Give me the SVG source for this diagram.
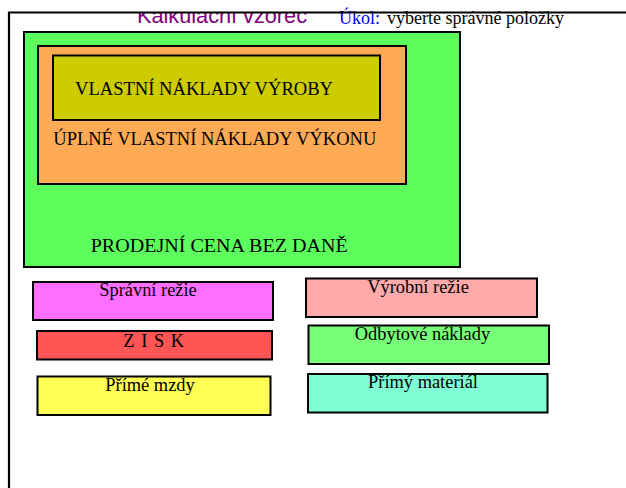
<svg xmlns="http://www.w3.org/2000/svg" width="626" height="488" viewBox="0 0 626 488">
<style>
  .box { stroke: #000; stroke-width: 2; }
  .serif { font-family: "Liberation Serif", "Times New Roman", serif; fill: #000; }
  .lbl { font-size: 18.4px; text-anchor: middle; }
  .big { font-size: 18.4px; }
</style>
<defs>
  <clipPath id="titleClip"><rect x="0" y="13" width="626" height="30"/></clipPath>
</defs>
<rect width="626" height="488" fill="#fff"/>

<g id="title" clip-path="url(#titleClip)">
  <text x="137" y="23.3" font-family="'Liberation Sans', Arial, sans-serif" font-size="21.7" fill="#800080" textLength="170" lengthAdjust="spacingAndGlyphs">Kalkulační vzorec</text>
</g>
<g id="task">
  <text x="339" y="24" class="serif" font-size="18"><tspan fill="#0000FF">Úkol:</tspan><tspan x="387" y="24">vyberte správné položky</tspan></text>
</g>

<g id="frame">
  <path d="M9 488 V12.5 H626" fill="none" stroke="#000" stroke-width="2.2"/>
</g>

<g id="prodejni-cena">
  <rect class="box" x="24" y="32" width="436" height="235" fill="#5CFF5C"/>
  <text class="serif big" x="90.7" y="251.7" font-size="20" textLength="257" lengthAdjust="spacingAndGlyphs">PRODEJNÍ CENA BEZ DANĚ</text>
</g>
<g id="uplne-vlastni-naklady">
  <rect class="box" x="38" y="46" width="368" height="138" fill="#FFAA55"/>
  <text class="serif big" x="53.3" y="145" textLength="323" lengthAdjust="spacingAndGlyphs">ÚPLNÉ VLASTNÍ NÁKLADY VÝKONU</text>
</g>
<g id="vlastni-naklady-vyroby">
  <rect class="box" x="53" y="55.5" width="327" height="64.5" fill="#CCCC00"/>
  <text class="serif big" x="75" y="95" textLength="258" lengthAdjust="spacingAndGlyphs">VLASTNÍ NÁKLADY VÝROBY</text>
</g>

<g id="spravni-rezie">
  <rect class="box" x="33" y="282" width="240" height="38" fill="#FF6EFF"/>
  <text class="serif lbl" x="148" y="295.7">Správní režie</text>
</g>
<g id="zisk">
  <rect class="box" x="37" y="331" width="235" height="28.5" fill="#FF5555"/>
  <text class="serif" x="123.3" y="346.7" font-size="18.4" textLength="60.7" lengthAdjust="spacing">Z I S K</text>
</g>
<g id="prime-mzdy">
  <rect class="box" x="37.5" y="376.5" width="233" height="38.5" fill="#FFFF55"/>
  <text class="serif lbl" x="150" y="391">Přímé mzdy</text>
</g>
<g id="vyrobni-rezie">
  <rect class="box" x="306" y="278.5" width="231" height="38.5" fill="#FFAAAA"/>
  <text class="serif lbl" x="418" y="293.3">Výrobní režie</text>
</g>
<g id="odbytove-naklady">
  <rect class="box" x="308.5" y="325.5" width="240.5" height="38.5" fill="#77FF77"/>
  <text class="serif lbl" x="422.5" y="340">Odbytové náklady</text>
</g>
<g id="primy-material">
  <rect class="box" x="308" y="374" width="239.5" height="38.5" fill="#80FFD4"/>
  <text class="serif lbl" x="423" y="388.3">Přímý materiál</text>
</g>

<g id="connectors"></g>
</svg>
